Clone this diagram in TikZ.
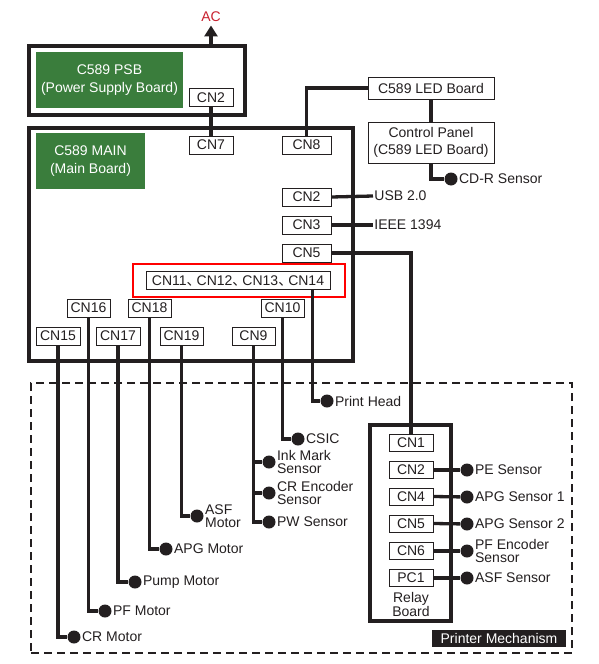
\documentclass[tikz,border=0pt]{standalone}
\usepackage{fontspec}
\setmainfont{Liberation Sans}
\newfontfamily\cjk{Noto Sans CJK SC}
\usetikzlibrary{arrows.meta,positioning}
\definecolor{ink}{RGB}{35,31,32}
\definecolor{boardgreen}{RGB}{58,125,60}
\definecolor{acred}{RGB}{200,32,46}
\newcommand{\idc}{{\cjk 、}\kern-4pt}
\newcommand{\tightlines}{\fontsize{14}{13}\selectfont}

\tikzset{
  cnbox/.style={draw=ink,line width=0.8pt,fill=white,minimum width=44pt,minimum height=18pt,inner sep=0pt},
  board/.style={draw=ink,line width=3.2pt,inner sep=0pt},
  greenbox/.style={fill=boardgreen,text=white,align=center,inner sep=0pt,font=\fontsize{14}{18}\selectfont},
  wire/.style={draw=ink,line width=3.3pt},
  dot/.style={circle,fill=ink,minimum size=13pt,inner sep=0pt},
  lbl/.style={inner sep=1.2pt,align=left,font=\tightlines},
}

\begin{document}
\begin{tikzpicture}[x=1pt,y=-1pt,>=Stealth,text=ink,font=\fontsize{14}{17}\selectfont]
  \useasboundingbox (0,0) rectangle (598,664);
  % printer mechanism (dashed)
  \node[draw=ink,line width=1.8pt,dash pattern=on 8pt off 5pt,minimum width=541pt,minimum height=270pt] (mech) at (301.5,518) {};
  \node[fill=ink,text=white,minimum width=134pt,minimum height=17pt,inner sep=0pt] (mechlbl) at (499,638.5) {Printer Mechanism};
  % boards
  \node[board,minimum width=216pt,minimum height=69pt] (psb) at (137,80.5) {};
  \node[board,minimum width=324pt,minimum height=233pt] (main) at (191,244.5) {};
  \node[board,minimum width=81pt,minimum height=196pt] (relay) at (410.5,523) {};
  \node[greenbox,minimum width=147pt,minimum height=56pt] (psbname) at (109.5,80) {C589 PSB\\(Power Supply Board)};
  \node[greenbox,minimum width=109pt,minimum height=56pt] (mainname) at (90.5,161) {C589 MAIN\\(Main Board)};
  \node[align=center,font=\fontsize{14}{14}\selectfont] (relayname) at (411,604) {Relay\\Board};
  \node[text=acred] (ac) at (211,17) {AC};
  % LED boards
  \node[cnbox,minimum width=126pt,minimum height=22pt] (led) at (431,88) {C589 LED Board};
  \node[cnbox,minimum width=126pt,minimum height=41pt,align=center] (ctrl) at (431,142.5) {Control Panel\\(C589 LED Board)};
  % connectors
  \node[cnbox] (cn2p) at (211,97.5) {CN2};
  \node[cnbox] (cn7) at (211,145) {CN7};
  \node[cnbox,minimum width=49pt] (cn8) at (306.5,145) {CN8};
  \node[cnbox,minimum width=49pt] (cn2m) at (306.5,197) {CN2};
  \node[cnbox,minimum width=49pt] (cn3m) at (306.5,225) {CN3};
  \node[cnbox,minimum width=49pt] (cn5m) at (306.5,253) {CN5};
  \node[draw=red,line width=2pt,minimum width=212pt,minimum height=33pt] (redframe) at (239,280.5) {};
  \node[cnbox,minimum width=184pt] (cn11) at (238,280.5) {CN11\idc CN12\idc CN13\idc CN14};
  \node[cnbox,minimum width=43pt] (cn16) at (88.5,308) {CN16};
  \node[cnbox,minimum width=43pt] (cn18) at (149.5,308) {CN18};
  \node[cnbox,minimum width=43pt] (cn10) at (282.5,308) {CN10};
  \node[cnbox] (cn15) at (58,336) {CN15};
  \node[cnbox] (cn17) at (118,336) {CN17};
  \node[cnbox,minimum width=43pt] (cn19) at (181.5,336) {CN19};
  \node[cnbox,minimum width=43pt] (cn9) at (253.5,336) {CN9};
  \node[cnbox,minimum height=17pt] (cn1r) at (411,442.5) {CN1};
  \node[cnbox,minimum height=17pt] (cn2r) at (411,470) {CN2};
  \node[cnbox,minimum height=17pt] (cn4r) at (411,496.5) {CN4};
  \node[cnbox,minimum height=17pt] (cn5r) at (411,523.5) {CN5};
  \node[cnbox,minimum height=17pt] (cn6r) at (411,551) {CN6};
  \node[cnbox,minimum height=17pt] (pc1r) at (411,578) {PC1};
  % parts
  \node[dot] (cdr) at (451,179) {};
  \node[dot] (phead) at (327,401) {};
  \node[dot] (csic) at (298,439) {};
  \node[dot] (inkm) at (269,462) {};
  \node[dot] (crenc) at (269,493) {};
  \node[dot] (pws) at (269,522) {};
  \node[dot] (asfm) at (197,516) {};
  \node[dot] (apgm) at (166,549) {};
  \node[dot] (pumpm) at (135,582) {};
  \node[dot] (pfm) at (105,611) {};
  \node[dot] (crm) at (74,637) {};
  \node[dot] (pes) at (467,470) {};
  \node[dot] (apgs1) at (467,497) {};
  \node[dot] (apgs2) at (467,524) {};
  \node[dot] (pfenc) at (467,551) {};
  \node[dot] (asfs) at (467,578) {};
  \node[lbl,right=0pt of cdr] {CD-R Sensor};
  \node[lbl,right=0pt of phead] {Print Head};
  \node[lbl,right=0pt of csic] {CSIC};
  \node[lbl,right=0pt of inkm] {Ink Mark\\Sensor};
  \node[lbl,right=0pt of crenc] {CR Encoder\\Sensor};
  \node[lbl,right=0pt of pws] {PW Sensor};
  \node[lbl,right=0pt of asfm] {ASF\\Motor};
  \node[lbl,right=0pt of apgm] {APG Motor};
  \node[lbl,right=0pt of pumpm] {Pump Motor};
  \node[lbl,right=0pt of pfm] {PF Motor};
  \node[lbl,right=0pt of crm] {CR Motor};
  \node[lbl,right=0pt of pes] {PE Sensor};
  \node[lbl,right=0pt of apgs1] {APG Sensor 1};
  \node[lbl,right=0pt of apgs2] {APG Sensor 2};
  \node[lbl,right=0pt of pfenc] {PF Encoder\\Sensor};
  \node[lbl,right=0pt of asfs] {ASF Sensor};
  \node[lbl,anchor=west] (usb) at (373,196) {USB 2.0};
  \node[lbl,anchor=west] (ieee) at (373,225) {IEEE 1394};
  % wiring
  \draw[wire,-{Triangle[length=11pt,width=13pt]}] (psb.north -| cn2p) -- (ac.south);
  \draw[wire] (cn2p.south) -- (cn7.north);
  \draw[wire] (cn8.north) |- (led.west);
  \draw[wire] (led.south) -- (ctrl.north);
  \draw[wire] (ctrl.south) |- (cdr);
  \draw[wire] (cn2m.east) -- (usb.west);
  \draw[wire] (cn3m.east) -- (ieee.west);
  \draw[wire] (cn5m.east) -| (cn1r.north);
  \draw[wire] ([xshift=-18pt]cn11.south east) |- (phead);
  \draw[wire] (cn10.south) |- (csic);
  \draw[wire] (cn9.south) |- (pws);
  \draw[wire] (cn9.south |- inkm) -- (inkm);
  \draw[wire] (cn9.south |- crenc) -- (crenc);
  \draw[wire] (cn19.south) |- (asfm);
  \draw[wire] (cn18.south) |- (apgm);
  \draw[wire] (cn17.south) |- (pumpm);
  \draw[wire] (cn16.south) |- (pfm);
  \draw[wire] (cn15.south) |- (crm);
  \draw[wire] (cn2r.east) -- (pes);
  \draw[wire] (cn4r.east) -- (apgs1);
  \draw[wire] (cn5r.east) -- (apgs2);
  \draw[wire] (cn6r.east) -- (pfenc);
  \draw[wire] (pc1r.east) -- (asfs);
\end{tikzpicture}
\end{document}
